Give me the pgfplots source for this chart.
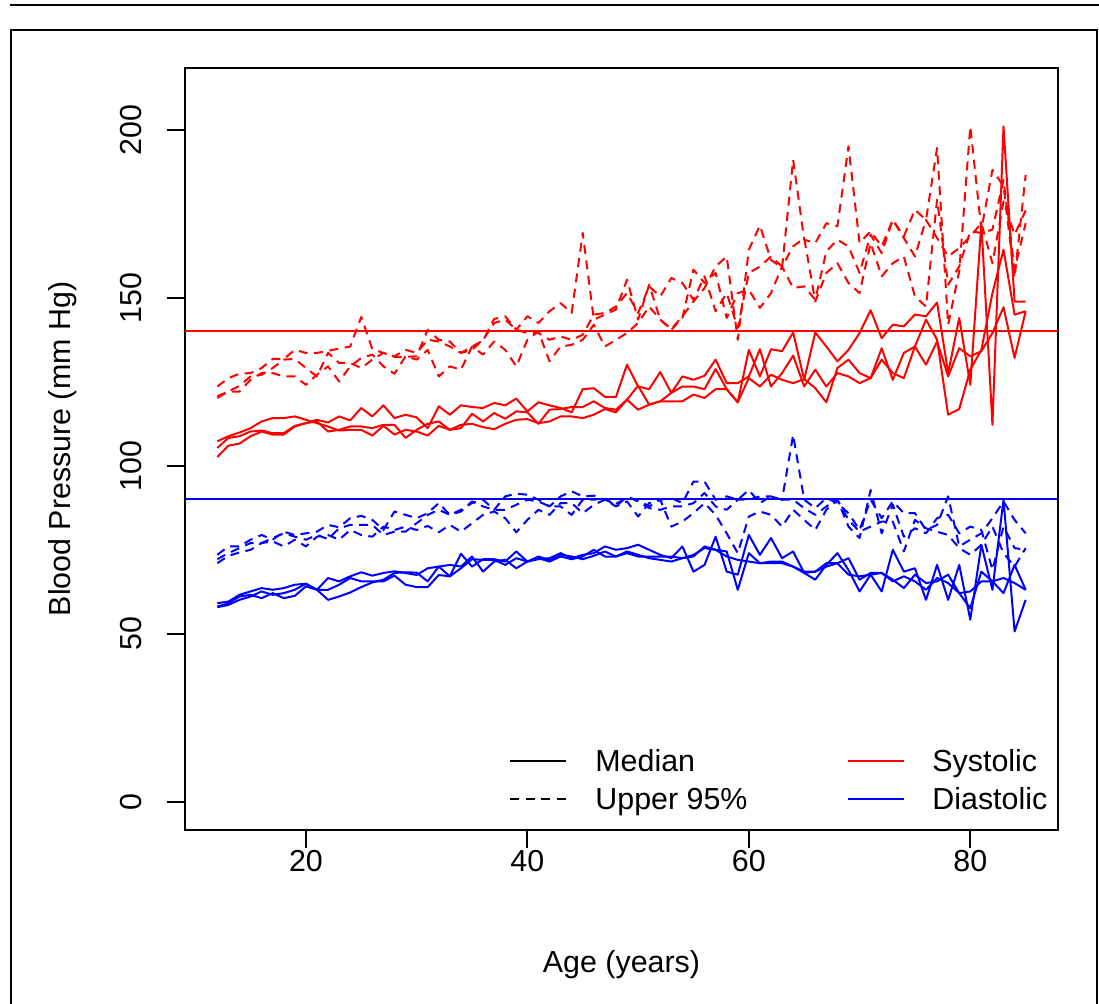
\documentclass[border=0pt]{standalone}
\usepackage{fontspec}
\setmainfont{Liberation Sans}
\usepackage{pgfplots}
\usepackage{pgfplotstable}
\pgfplotsset{compat=1.18}

% Systolic median (three groups)
\pgfplotstableread{
age a b c
12 107.3 105.3 102.6
13 108.8 108.3 106.0
14 109.9 108.8 106.6
15 111.2 110.2 108.8
16 113.2 110.5 110.2
17 114.2 109.7 109.3
18 114.2 109.7 109.3
19 114.7 111.9 111.7
20 113.7 112.7 112.7
21 112.7 113.7 113.2
22 111.7 112.9 110.2
23 110.5 114.7 110.7
24 110.7 113.5 111.7
25 110.7 117.2 111.7
26 109.0 114.7 111.2
27 111.9 118.0 112.2
28 109.3 114.2 112.2
29 110.7 115.2 108.3
30 110.2 114.4 110.7
31 109.0 111.2 112.5
32 111.9 117.7 113.2
33 110.7 115.2 110.7
34 111.2 118.0 112.2
35 115.5 117.5 112.5
36 113.2 117.2 111.5
37 115.7 118.7 110.9
38 114.0 118.0 112.5
39 116.2 120.0 113.7
40 115.9 116.2 113.9
41 112.5 118.9 112.7
42 116.7 118.0 113.2
43 116.9 117.2 114.7
44 117.5 115.9 114.7
45 117.5 122.8 114.2
46 119.2 123.1 115.2
47 117.2 120.5 116.9
48 116.7 120.5 115.9
49 119.7 130.1 119.7
50 123.8 123.6 116.7
51 118.2 122.8 118.2
52 119.2 127.9 119.2
53 121.7 121.7 119.2
54 123.6 126.6 119.2
55 123.6 125.6 121.2
56 122.8 126.8 120.2
57 128.8 131.6 122.8
58 122.8 124.6 122.8
59 118.9 124.6 118.9
60 134.5 126.6 126.1
61 126.6 134.7 123.6
62 134.7 123.6 127.1
63 134.1 127.6 125.6
64 139.7 132.8 124.6
65 125.6 123.6 125.8
66 139.7 128.6 123.1
67 135.5 123.6 118.9
68 131.1 127.6 129.1
69 134.5 126.6 131.6
70 139.5 124.6 127.6
71 146.3 126.1 126.1
72 138.0 131.6 135.0
73 142.0 127.6 125.6
74 141.5 126.1 133.6
75 145.0 135.5 135.5
76 144.5 143.5 130.1
77 148.6 137.5 137.0
78 127.6 115.2 126.6
79 144.0 116.9 135.0
80 124.1 128.6 132.6
81 172.2 134.5 134.1
82 112.2 151.4 139.5
83 201.0 164.3 147.2
84 148.9 145.0 132.1
85 148.9 146.0 146.0
}\sysmed

% Systolic upper 95%
\pgfplotstableread{
age a b c
12 123.6 120.7 120.2
13 126.1 122.1 122.1
14 127.4 122.1 123.8
15 127.6 125.6 126.6
16 129.1 127.6 127.1
17 131.8 127.6 129.1
18 131.8 126.6 131.6
19 134.5 126.6 131.8
20 133.6 124.1 129.1
21 133.6 127.1 126.6
22 134.2 129.6 133.6
23 134.9 125.1 130.6
24 135.5 129.6 130.6
25 144.3 132.1 129.1
26 134.7 133.1 131.6
27 133.6 129.6 133.6
28 132.4 127.4 132.6
29 132.4 132.6 134.5
30 132.6 131.6 133.6
31 140.5 134.5 137.5
32 137.5 126.6 137.0
33 137.0 129.6 135.5
34 133.6 128.6 133.6
35 135.5 135.5 134.5
36 137.3 133.1 137.5
37 143.7 137.0 142.5
38 144.5 134.5 143.5
39 140.5 129.6 140.5
40 144.5 137.5 139.5
41 142.5 140.0 139.5
42 146.0 131.1 137.5
43 148.4 135.5 138.5
44 145.5 136.0 137.5
45 169.3 137.5 139.0
46 143.5 142.0 145.0
47 145.0 135.5 145.5
48 146.5 137.5 147.4
49 155.4 139.5 151.4
50 143.5 142.5 145.5
51 153.9 147.4 153.4
52 143.5 143.5 150.4
53 140.7 140.5 155.9
54 144.5 144.0 154.4
55 148.9 158.4 149.4
56 152.9 154.4 156.4
57 159.3 157.4 146.0
58 162.3 144.0 151.4
59 137.5 151.4 141.0
60 164.3 152.4 157.4
61 171.5 147.0 159.3
62 161.3 151.4 162.3
63 158.9 159.3 159.3
64 191.1 152.9 165.3
65 167.3 153.4 167.8
66 166.3 149.4 148.9
67 172.2 163.8 157.4
68 171.3 167.3 160.3
69 195.1 165.3 154.4
70 166.3 157.4 151.4
71 169.8 168.8 166.3
72 165.3 163.3 156.4
73 173.2 173.2 160.3
74 168.3 167.8 162.3
75 176.2 162.3 150.4
76 173.2 173.2 147.4
77 194.6 167.8 179.2
78 142.0 162.3 153.9
79 157.9 164.8 159.3
80 201.0 168.3 169.8
81 170.3 172.2 169.3
82 188.1 160.3 170.3
83 183.2 178.7 185.1
84 155.9 168.8 158.4
85 186.6 176.0 172.2
}\sysup

% Diastolic median
\pgfplotstableread{
age a b c
12 59.1 58.1 57.9
13 59.6 59.1 58.6
14 61.6 61.1 60.1
15 62.6 61.6 61.1
16 63.6 60.6 62.6
17 63.1 62.1 61.6
18 63.6 60.6 62.1
19 64.6 61.3 63.1
20 64.9 64.1 64.9
21 63.1 63.1 63.1
22 66.6 60.1 63.1
23 65.6 61.1 64.6
24 67.1 62.3 66.6
25 68.3 63.9 65.6
26 67.3 65.3 65.6
27 68.1 66.1 65.6
28 68.6 68.1 67.3
29 68.1 68.3 64.6
30 67.5 68.2 63.9
31 69.5 65.6 63.9
32 70.0 70.0 67.5
33 67.1 70.5 67.1
34 73.8 70.0 69.5
35 70.0 73.0 72.2
36 72.2 68.5 72.0
37 72.2 71.5 72.0
38 71.5 72.0 70.5
39 74.5 69.5 72.5
40 71.5 71.5 71.5
41 72.2 73.0 72.5
42 72.5 72.0 71.5
43 74.0 73.5 73.0
44 72.5 73.0 72.2
45 73.5 72.2 73.0
46 74.0 73.2 75.0
47 76.0 74.5 73.0
48 75.0 73.0 73.0
49 75.5 74.0 74.5
50 76.5 73.0 73.5
51 75.0 73.0 72.5
52 73.5 73.0 72.0
53 72.5 73.0 71.5
54 76.0 72.5 72.5
55 68.5 73.0 73.5
56 70.5 76.0 75.5
57 78.9 75.0 75.0
58 68.5 74.5 73.0
59 67.6 63.1 72.0
60 79.4 74.0 71.5
61 73.5 71.0 71.0
62 78.5 71.5 71.0
63 72.5 71.5 71.0
64 74.5 70.0 70.0
65 68.1 68.1 68.5
66 66.1 68.5 68.5
67 70.5 71.0 70.0
68 74.0 71.0 71.0
69 69.0 72.5 67.6
70 62.6 66.1 67.1
71 67.6 68.1 67.6
72 62.6 68.1 68.1
73 75.0 66.1 65.6
74 68.5 63.6 67.1
75 69.5 67.6 65.6
76 60.1 65.1 63.1
77 70.5 65.6 66.6
78 60.1 67.6 65.1
79 70.5 62.1 62.1
80 54.2 57.6 62.6
81 76.5 68.5 65.6
82 63.1 65.6 65.6
83 89.9 62.1 66.6
84 50.7 70.5 65.1
85 60.1 63.1 63.1
}\diamed

% Diastolic upper 95%
\pgfplotstableread{
age a b c
12 73.5 71.0 72.2
13 76.0 73.2 74.0
14 76.0 74.2 75.5
15 78.0 75.0 77.0
16 79.4 77.0 77.0
17 78.0 77.5 78.5
18 80.4 76.0 79.9
19 79.4 78.0 78.9
20 79.9 76.0 78.0
21 80.4 78.9 79.4
22 82.4 79.4 78.2
23 81.7 78.0 81.4
24 84.4 80.9 82.4
25 85.1 79.4 82.4
26 83.9 78.9 82.4
27 80.9 81.9 79.4
28 86.4 80.9 80.4
29 85.4 81.9 80.4
30 84.4 80.9 82.9
31 85.9 82.1 85.4
32 88.9 80.2 86.9
33 85.4 82.4 85.4
34 86.9 80.4 86.4
35 88.9 82.9 89.4
36 89.9 85.4 87.9
37 86.9 86.4 86.9
38 90.9 84.4 86.9
39 91.7 80.2 88.4
40 91.4 83.9 89.9
41 89.9 86.9 89.4
42 87.9 85.4 87.9
43 90.9 88.9 87.9
44 92.4 88.9 85.4
45 90.9 85.9 89.9
46 91.1 88.4 89.9
47 89.9 89.9 90.4
48 88.7 87.9 87.9
49 90.4 89.4 90.9
50 89.9 84.9 89.4
51 87.9 88.9 87.4
52 89.9 89.9 86.9
53 90.4 81.9 87.9
54 88.9 83.4 87.9
55 95.3 85.9 88.9
56 95.3 88.9 91.9
57 89.9 85.4 87.9
58 90.9 79.9 86.9
59 89.9 74.0 89.9
60 92.8 84.9 89.9
61 88.9 86.4 90.9
62 90.9 85.4 90.9
63 89.9 81.9 89.9
64 109.2 86.9 89.9
65 89.9 83.9 87.4
66 87.4 80.9 85.4
67 90.4 86.9 87.9
68 88.9 89.9 89.9
69 85.9 81.9 83.9
70 80.9 78.5 80.4
71 89.9 92.8 81.9
72 84.4 79.9 83.4
73 89.4 88.4 83.4
74 85.9 78.9 74.5
75 85.9 81.4 83.9
76 80.9 79.9 81.4
77 82.4 84.4 80.4
78 90.9 85.4 79.4
79 76.0 79.9 75.5
80 78.0 81.9 73.5
81 79.9 80.9 76.5
82 84.4 69.0 81.9
83 89.4 81.9 74.0
84 83.9 75.5 70.0
85 79.9 75.0 75.5
}\diaup

\tikzset{
  solidln/.style={line width=1pt, line join=round},
  dashln/.style={line width=1pt, line join=round, dash pattern=on 4.5pt off 3.25pt},
}

\begin{document}
\begin{tikzpicture}[font=\fontsize{15.2}{18}\selectfont]
\path[use as bounding box] (0pt,0pt) rectangle (549.5pt,-502pt);
\draw[line width=0.9pt] (5pt,-2.5pt) -- (549.5pt,-2.5pt);
\draw[line width=0.9pt] (5.5pt,-502pt) -- (5.5pt,-15pt) -- (548.5pt,-15pt) -- (548.5pt,-502pt);
\begin{axis}[
  at={(92.5pt,-415pt)}, anchor=south west,
  scale only axis, width=436.5pt, height=381pt,
  xmin=9.08, xmax=87.92, ymin=-8.4, ymax=218.4,
  xtick={20,40,60,80}, ytick={0,50,100,150,200},
  xtick pos=bottom, ytick pos=left,
  tick align=outside, major tick length=9pt,
  axis line style={line width=1pt},
  every tick/.style={black, line width=1pt},
  /pgf/number format/assume math mode=true,
  xticklabel style={anchor=north, inner sep=0pt},
  yticklabel style={rotate=90, anchor=south, inner sep=0pt},
  xticklabel shift=1pt,
  yticklabel shift=12.5pt,
  xlabel={Age (years)},
  ylabel={Blood Pressure (mm Hg)},
  xlabel style={at={(axis description cs:0.5,-0.1875)}, anchor=base, inner sep=0pt},
  ylabel style={at={(axis description cs:-0.1317,0.5)}, anchor=base, inner sep=0pt},
  clip=true,
]
\addplot[red, solidln] coordinates {(9.08,140) (87.92,140)};
\addplot[blue, solidln] coordinates {(9.08,90) (87.92,90)};

\addplot[red, solidln] table[x=age, y=a] {\sysmed};
\addplot[red, solidln] table[x=age, y=b] {\sysmed};
\addplot[red, solidln] table[x=age, y=c] {\sysmed};
\addplot[red, dashln] table[x=age, y=a] {\sysup};
\addplot[red, dashln] table[x=age, y=b] {\sysup};
\addplot[red, dashln] table[x=age, y=c] {\sysup};
\addplot[blue, solidln] table[x=age, y=a] {\diamed};
\addplot[blue, solidln] table[x=age, y=b] {\diamed};
\addplot[blue, solidln] table[x=age, y=c] {\diamed};
\addplot[blue, dashln] table[x=age, y=a] {\diaup};
\addplot[blue, dashln] table[x=age, y=b] {\diaup};
\addplot[blue, dashln] table[x=age, y=c] {\diaup};
\end{axis}
% legend (no box), positions in reference pixels
\begin{scope}[x=0.5pt, y=-0.5pt]
\draw[solidln, black] (510,761) -- (566,761);
\draw[dashln, black] (510,799) -- (566,799);
\draw[solidln, red] (848,761) -- (904,761);
\draw[solidln, blue] (848,799) -- (904,799);
\node[anchor=base west, inner sep=0pt] at (595,772) {Median};
\node[anchor=base west, inner sep=0pt] at (595,810) {Upper 95\%};
\node[anchor=base west, inner sep=0pt] at (932,772) {Systolic};
\node[anchor=base west, inner sep=0pt] at (932,810) {Diastolic};
\end{scope}
\end{tikzpicture}
\end{document}
